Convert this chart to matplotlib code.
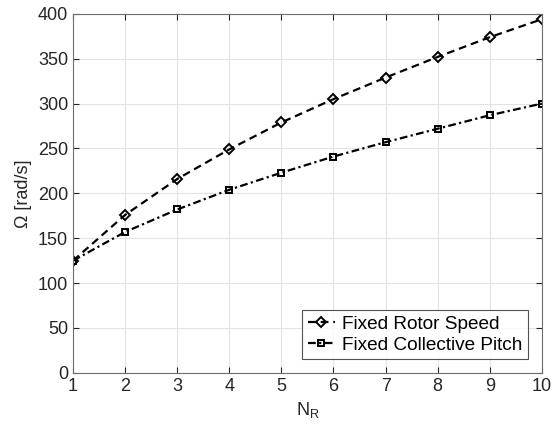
import matplotlib
matplotlib.use("Agg")
import matplotlib.pyplot as plt

plt.rcParams['font.family'] = ['Liberation Sans', 'DejaVu Sans']

n_r = [1, 2, 3, 4, 5, 6, 7, 8, 9, 10]
fixed_speed = [125, 176, 216, 249, 279, 305, 329, 352, 374, 394]
fixed_pitch = [125, 157, 182, 204, 223, 241, 257, 272, 287, 300]

fig = plt.figure(figsize=(5.58, 4.33), dpi=100)
ax = fig.add_axes([0.131, 0.139, 0.84, 0.829])

ax.plot(n_r, fixed_speed, 'k--', marker='D', mfc='none', mec='k', ms=5,
        lw=1.6, mew=1.4, dashes=(3.5, 2.2), label='Fixed Rotor Speed')
ax.plot(n_r, fixed_pitch, 'k-.', marker='s', mfc='none', mec='k', ms=5,
        lw=1.6, mew=1.4, dashes=(3.5, 1.5, 1, 1.5), label='Fixed Collective Pitch')

ax.set_xlim(1, 10)
ax.set_ylim(0, 400)
ax.set_xticks(range(1, 11))
ax.set_yticks(range(0, 401, 50))
ax.grid(True, color='#e3e3e3', lw=0.8)
ax.set_axisbelow(True)

ax.tick_params(direction='in', labelsize=13, colors='#262626', length=4,
               top=True, right=True)
ax.tick_params(labeltop=False, labelright=False)
for s in ax.spines.values():
    s.set_color('#6e6e6e')

ax.set_xlabel('N$_\\mathregular{R}$', fontsize=13, color='#262626')
ax.set_ylabel('\u03a9 [rad/s]', fontsize=13, color='#262626')

leg = ax.legend(loc='lower right', fontsize=13.7, frameon=True, fancybox=False,
                edgecolor='#262626', handlelength=1.4, handletextpad=0.4,
                borderpad=0.3, labelspacing=0.2, borderaxespad=0.7)
leg.get_frame().set_linewidth(0.8)

fig.savefig('out.png', dpi=100)
